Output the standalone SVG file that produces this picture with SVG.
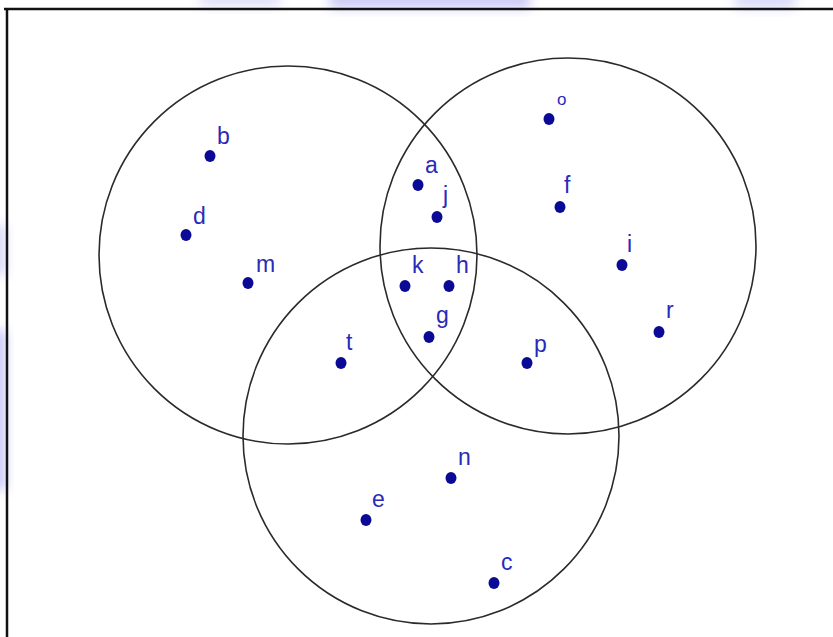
<svg xmlns="http://www.w3.org/2000/svg" width="833" height="637" viewBox="0 0 833 637">
<defs>
<filter id="blur" x="-50%" y="-50%" width="200%" height="200%"><feGaussianBlur stdDeviation="6"/></filter>
<style>
.bg{fill:#c9c9f7;filter:url(#blur)}
.frame{stroke:#111;stroke-width:2.5;fill:none}
.set{fill:none;stroke:#2a2a2a;stroke-width:1.6}
.pt{fill:#0a0a96}
.lb{fill:#2a2ab8;font-family:"Liberation Sans",Arial,sans-serif;font-size:23px}
</style>
</defs>
<rect width="833" height="637" fill="#ffffff"/>
<g id="background">
<rect class="bg" x="200" y="-10" width="80" height="16" opacity="0.6"/>
<rect class="bg" x="330" y="-10" width="200" height="18"/>
<rect class="bg" x="735" y="-10" width="60" height="18" opacity="0.7"/>
<rect class="bg" x="-10" y="225" width="16" height="50" opacity="0.7"/>
<rect class="bg" x="-10" y="330" width="16" height="160"/>
</g>
<g id="frame">
<line class="frame" x1="4" y1="9" x2="833" y2="9"/>
<line class="frame" x1="7" y1="9" x2="7" y2="637"/>
</g>
<g id="sets">
<circle id="set-left" class="set" cx="288" cy="255" r="189"/>
<circle id="set-right" class="set" cx="568" cy="246" r="188"/>
<circle id="set-bottom" class="set" cx="431" cy="436" r="188"/>
</g>
<g id="points">
<g id="b"><ellipse class="pt" cx="210" cy="156" rx="5.5" ry="6"/><text class="lb" x="217" y="144">b</text></g>
<g id="d"><ellipse class="pt" cx="186" cy="235" rx="5.5" ry="6"/><text class="lb" x="193" y="224">d</text></g>
<g id="m"><ellipse class="pt" cx="248" cy="283" rx="5.5" ry="6"/><text class="lb" x="256" y="272">m</text></g>
<g id="a"><ellipse class="pt" cx="418" cy="185" rx="5.5" ry="6"/><text class="lb" x="425" y="173">a</text></g>
<g id="j"><ellipse class="pt" cx="437" cy="217" rx="5.5" ry="6"/><text class="lb" x="443" y="203">j</text></g>
<g id="k"><ellipse class="pt" cx="405" cy="286" rx="5.5" ry="6"/><text class="lb" x="412" y="273">k</text></g>
<g id="h"><ellipse class="pt" cx="449" cy="286" rx="5.5" ry="6"/><text class="lb" x="456" y="273">h</text></g>
<g id="g"><ellipse class="pt" cx="429" cy="337" rx="5.5" ry="6"/><text class="lb" x="436" y="323">g</text></g>
<g id="t"><ellipse class="pt" cx="341" cy="363" rx="5.5" ry="6"/><text class="lb" x="346" y="350">t</text></g>
<g id="o"><ellipse class="pt" cx="549" cy="119" rx="5.5" ry="6"/><text class="lb" x="557" y="105" style="font-size:17px">o</text></g>
<g id="f"><ellipse class="pt" cx="560" cy="207" rx="5.5" ry="6"/><text class="lb" x="564" y="193">f</text></g>
<g id="i"><ellipse class="pt" cx="622" cy="265" rx="5.5" ry="6"/><text class="lb" x="627" y="252">i</text></g>
<g id="r"><ellipse class="pt" cx="659" cy="332" rx="5.5" ry="6"/><text class="lb" x="666" y="318">r</text></g>
<g id="p"><ellipse class="pt" cx="527" cy="363" rx="5.5" ry="6"/><text class="lb" x="534" y="352">p</text></g>
<g id="n"><ellipse class="pt" cx="451" cy="478" rx="5.5" ry="6"/><text class="lb" x="458" y="465">n</text></g>
<g id="e"><ellipse class="pt" cx="366" cy="520" rx="5.5" ry="6"/><text class="lb" x="372" y="507">e</text></g>
<g id="c"><ellipse class="pt" cx="494" cy="583" rx="5.5" ry="6"/><text class="lb" x="501" y="570">c</text></g>
</g>
</svg>
